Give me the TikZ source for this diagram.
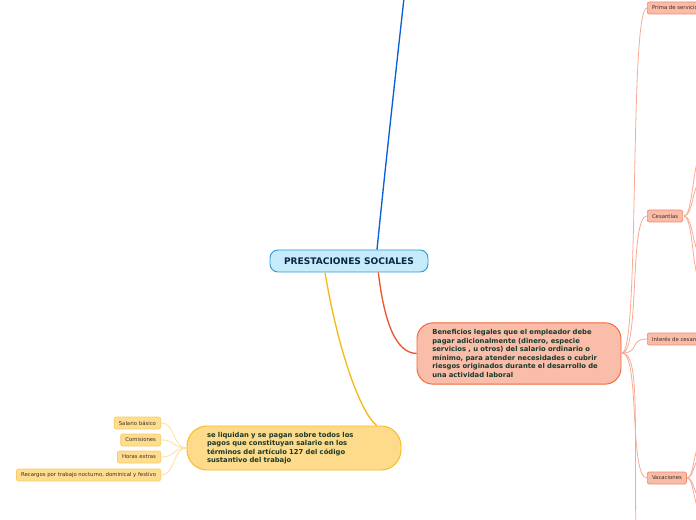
\documentclass[tikz,border=0pt]{standalone}
\usepackage{fontspec}
\setmainfont{DejaVu Sans}
\definecolor{cfill}{HTML}{C6EBFB}
\definecolor{cdraw}{HTML}{2E9BD8}
\definecolor{ctext}{HTML}{0B2545}
\definecolor{cblue}{HTML}{0A5FD6}
\definecolor{ofill}{HTML}{F9BDA9}
\definecolor{odraw}{HTML}{F1673A}
\definecolor{oline}{HTML}{F0542C}
\definecolor{otext}{HTML}{173A2C}
\definecolor{yfill}{HTML}{FEDB8A}
\definecolor{ydraw}{HTML}{F9B81C}
\definecolor{yline}{HTML}{F9B81A}
\definecolor{sfill}{HTML}{FEDD8F}
\definecolor{sdraw}{HTML}{FBCB68}
\definecolor{sline}{HTML}{FDE0A0}
\definecolor{pfill}{HTML}{F9BCA8}
\definecolor{pdraw}{HTML}{F38A6C}
\definecolor{pline}{HTML}{F8AA92}
\definecolor{stext}{HTML}{3D2C22}
\tikzset{
  central/.style={draw=cdraw, fill=cfill, line width=0.7pt, rounded corners=6pt,
    minimum width=118.5pt, minimum height=16.5pt, inner sep=0pt,
    text=ctext, font=\fontsize{6.8}{8}\selectfont\bfseries},
  bigorange/.style={draw=odraw, fill=ofill, line width=0.7pt, rounded corners=12pt,
    minimum height=46pt, inner xsep=11.5pt, inner ysep=0pt, text width=130pt, align=left,
    text=otext, font=\fontsize{5.1}{6.45}\selectfont\bfseries},
  bigyellow/.style={draw=ydraw, fill=yfill, line width=0.7pt, rounded corners=15pt,
    minimum height=33pt, inner xsep=15pt, inner ysep=0pt, text width=130.5pt, align=left,
    text=otext, font=\fontsize{5.1}{6.4}\selectfont\bfseries},
  smally/.style={draw=sdraw, fill=sfill, line width=0.5pt, rounded corners=1.5pt,
    minimum height=9pt, inner xsep=3.5pt, inner ysep=0pt, anchor=east,
    text=stext, font=\fontsize{4}{4.8}\selectfont},
  smallp/.style={draw=pdraw, fill=pfill, line width=0.5pt, rounded corners=1.5pt,
    minimum height=9pt, inner xsep=3.5pt, inner ysep=0pt, anchor=west,
    text=stext, font=\fontsize{4}{4.8}\selectfont},
  ylink/.style={draw=sline, line width=0.6pt},
  plink/.style={draw=pline, line width=0.6pt},
}
\begin{document}
\begin{tikzpicture}[x=0.75pt,y=-0.75pt]
\useasboundingbox (0,0) rectangle (696,520);
\clip (0,0) rectangle (696,520);
\fill[white] (0,0) rectangle (696,520);

% connectors from salmon children (drawn first, behind nodes)
\coordinate (oR) at (622,353);
\coordinate (down) at (636,540);
\coordinate (cR) at (684,216);
\coordinate (vR) at (687,478);
\foreach \yy in {8,216,339,478}
  \draw[plink] (oR) .. controls (640,353) and (629,\yy) .. (647,\yy);
\draw[plink] (oR) .. controls (640,353) and (634,420) .. (down);
\foreach \yy in {150,178,258,290}
  \draw[plink] (cR) .. controls (694,216) and (692,\yy) .. (705,\yy);
\foreach \yy in {440,455,500,515}
  \draw[plink] (vR) .. controls (695,478) and (693,\yy) .. (705,\yy);

% yellow children connectors
\coordinate (yL) at (187,448);
\foreach \yy in {423,440,457,475}
  \draw[ylink] (yL) .. controls (172,448) and (176,\yy) .. (161,\yy);

% main nodes
\node[central] (c) at (349,261) {PRESTACIONES SOCIALES};
\node[bigorange] (o) at (519,353.5) {Beneficios legales que el empleador debe\\pagar adicionalmente (dinero, especie\\servicios , u otros) del salario ordinario o\\mínimo, para atender necesidades o cubrir\\riesgos originados durante el desarrollo de\\una actividad laboral};
\node[bigyellow] (y) at (294,448) {se liquidan y se pagan sobre todos los\\pagos que constituyan salario en los\\términos del artículo 127 del código\\sustantivo del trabajo};

% small yellow nodes
\node[smally] (s1) at (161,423) {Salario básico};
\node[smally] (s2) at (161,440) {Comisiones};
\node[smally] (s3) at (161,457) {Horas extras};
\node[smally] (s4) at (161,475) {Recargos por trabajo nocturno, dominical y festivo};

% small salmon nodes
\node[smallp] (p1) at (647,8) {Prima de servicios};
\node[smallp] (p2) at (647,216) {Cesantías};
\node[smallp] (p3) at (647,339) {Interés de cesantías};
\node[smallp] (p4) at (647,478) {Vacaciones};

\coordinate (top) at (404,-2);

% main connectors
\draw[cblue, line width=1pt] ([xshift=21pt]c.north) .. controls (385,170) and (396,70) .. (top);
\draw[oline, line width=1pt] ([xshift=22pt]c.south) .. controls (384,320) and (395,353) .. (o.west);
\draw[yline, line width=1pt] ([xshift=-18pt]c.south) .. controls (338,350) and (360,412) .. ([xshift=62pt]y.north);
\end{tikzpicture}
\end{document}
